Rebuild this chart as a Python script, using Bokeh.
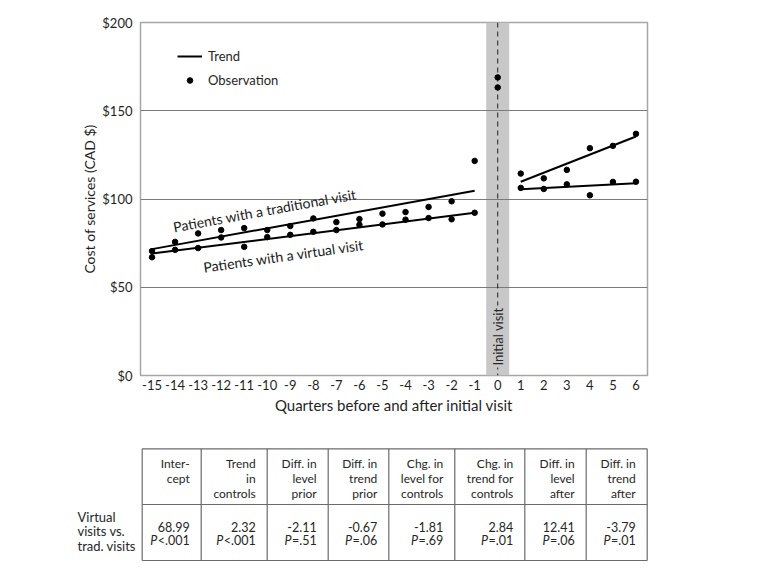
import math
from bokeh.plotting import figure
from bokeh.models import (Range1d, FixedTicker, BoxAnnotation, Span, Legend, LegendItem)
from bokeh.layouts import column
from bokeh.embed import file_html
from bokeh.resources import INLINE
from bokeh.core.properties import value

FONT = "Lato"

# ---------------- data ----------------
quarter_ticks = [-15, -14, -13, -12, -11, -10, -9, -8, -7, -6, -5, -4, -3, -2, -1, 0, 1, 2, 3, 4, 5, 6]
quarter_labels = ["-15", "-14", "-13", "-12", "-11", "-10", "-9", "-8", "-7", "-6", "-5", "-4",
                  "-3", "-2", "-1", "0", "1", "2", "3", "4", "5", "6"]
cost_ticks = [0, 50, 100, 150, 200]
cost_labels = ["$0", "$50", "$100", "$150", "$200"]

pre_quarters = [-15, -14, -13, -12, -11, -10, -9, -8, -7, -6, -5, -4, -3, -2, -1]
trad_pre_obs = [70.5, 75.7, 80.5, 82.4, 83.5, 82.4, 84.7, 89.0, 86.9, 88.6, 91.7, 92.6, 95.5, 98.7, 121.6]
virt_pre_obs = [67.0, 71.2, 72.2, 78.2, 72.9, 78.4, 79.7, 81.4, 82.4, 85.4, 85.6, 88.3, 89.2, 88.5, 92.2]

visit_quarters = [0, 0]
visit_obs = [168.9, 163.2]

post_quarters = [1, 2, 3, 4, 5, 6]
trad_post_obs = [114.4, 111.7, 116.5, 128.8, 130.1, 136.9]
virt_post_obs = [106.3, 105.7, 108.3, 102.1, 109.7, 109.8]

trend_pre_x = [-15, -1]
trad_pre_trend = [71.6, 104.7]
virt_pre_trend = [69.1, 92.2]
trend_post_x = [1, 6]
trad_post_trend = [109.8, 135.4]
virt_post_trend = [105.5, 108.9]

row_label = ["Virtual", "visits vs.", "trad. visits"]
col_headers = [["Inter-", "cept"], ["Trend", "in", "controls"], ["Diff. in", "level", "prior"],
               ["Diff. in", "trend", "prior"], ["Chg. in", "level for", "controls"],
               ["Chg. in", "trend for", "controls"], ["Diff. in", "level", "after"],
               ["Diff. in", "trend", "after"]]
coef_values = ["68.99", "2.32", "-2.11", "-0.67", "-1.81", "2.84", "12.41", "-3.79"]
p_values = ["<.001", "<.001", "=.51", "=.06", "=.69", "=.01", "=.06", "=.01"]

# ---------------- main chart ----------------
p = figure(width=708, height=438, x_range=Range1d(-15.5, 6.5), y_range=Range1d(0, 200),
           output_backend="svg", toolbar_location=None, frame_align=False,
           min_border_left=140, min_border_right=61, min_border_top=22, min_border_bottom=63)
p.background_fill_color = "white"
p.border_fill_color = "white"
p.outline_line_color = "#a6a6a6"
p.outline_line_width = 1.5

p.xgrid.visible = False
p.ygrid.ticker = FixedTicker(ticks=cost_ticks)
p.ygrid.grid_line_color = "#7a7a7a"
p.ygrid.grid_line_width = 1

for ax in (p.xaxis[0], p.yaxis[0]):
    ax.axis_line_color = None
    ax.major_tick_line_color = None
    ax.minor_tick_line_color = None
    ax.major_tick_out = 0
    ax.major_tick_in = 0
    ax.major_label_text_font = FONT
    ax.major_label_text_font_size = "13px"
    ax.major_label_text_color = "#1f1f1f"
    ax.axis_label_text_font = FONT
    ax.axis_label_text_font_style = "normal"
    ax.axis_label_text_color = "#1f1f1f"

p.xaxis.ticker = FixedTicker(ticks=quarter_ticks)
p.xaxis.major_label_overrides = dict(zip(quarter_ticks, quarter_labels))
p.xaxis.major_label_standoff = 4
p.xaxis.axis_label = "Quarters before and after initial visit"
p.xaxis.axis_label_text_font_size = "15px"
p.xaxis.axis_label_standoff = 3

p.yaxis.ticker = FixedTicker(ticks=cost_ticks)
p.yaxis.major_label_overrides = dict(zip(cost_ticks, cost_labels))
p.yaxis.major_label_standoff = 8
p.yaxis.axis_label = "Cost of services (CAD $)"
p.yaxis.axis_label_text_font_size = "14px"
p.yaxis.axis_label_standoff = 1

band = BoxAnnotation(left=-0.5, right=0.5, fill_color="#c8c8c8", fill_alpha=1.0,
                     line_color=None, level="image")
p.add_layout(band)
p.add_layout(Span(location=0, dimension="height", line_color="#222222", line_width=1,
                  line_dash="5 4", level="underlay"))

p.text(x=[0], y=[4.5], text=["Initial visit"], angle=math.pi / 2, text_align="left",
       text_baseline="middle", text_font=value(FONT), text_font_size="13px",
       text_color="#262626", background_fill_color="#c8c8c8", padding=2)

r_trend = p.line(trend_pre_x, trad_pre_trend, line_color="black", line_width=2)
p.line(trend_pre_x, virt_pre_trend, line_color="black", line_width=2)
p.line(trend_post_x, trad_post_trend, line_color="black", line_width=2)
p.line(trend_post_x, virt_post_trend, line_color="black", line_width=2)

r_obs = p.scatter(pre_quarters, trad_pre_obs, size=5.5, color="black")
p.scatter(pre_quarters, virt_pre_obs, size=5.5, color="black")
p.scatter(visit_quarters, visit_obs, size=5.5, color="black")
p.scatter(post_quarters, trad_post_obs, size=5.5, color="black")
p.scatter(post_quarters, virt_post_obs, size=5.5, color="black")

p.text(x=[-14.08], y=[84.1], text=["Patients with a traditional visit"], angle=math.radians(10.3),
       text_align="left", text_baseline="alphabetic", text_font=value(FONT),
       text_font_size="14px", text_color="#1a1a1a")
p.text(x=[-12.77], y=[61.3], text=["Patients with a virtual visit"], angle=math.radians(8.1),
       text_align="left", text_baseline="alphabetic", text_font=value(FONT),
       text_font_size="14px", text_color="#1a1a1a")

legend = Legend(items=[LegendItem(label="Trend", renderers=[r_trend]),
                       LegendItem(label="Observation", renderers=[r_obs])],
                location=(37, 287), border_line_color=None, background_fill_alpha=0,
                padding=0, margin=0, spacing=8, glyph_width=25, glyph_height=14,
                label_standoff=6, label_text_font=FONT, label_text_font_size="13px",
                label_text_color="#262626")
p.add_layout(legend)

# ---------------- table ----------------
t = figure(width=708, height=148, x_range=Range1d(0, 708), y_range=Range1d(586, 438),
           output_backend="svg", toolbar_location=None, min_border=0, frame_align=False,
           x_axis_location=None, y_axis_location=None, outline_line_color=None)
t.grid.visible = False
t.background_fill_color = "white"
t.border_fill_color = "white"

table_left = 141.7
col_widths = [59, 66, 61, 60.6, 66, 70, 61.4, 61]
table_top, header_bottom, table_bottom = 448.3, 504.0, 560.0
edges = [table_left]
for w in col_widths:
    edges.append(edges[-1] + w)
table_right = edges[-1]

t.segment(x0=[table_left] * 3, x1=[table_right] * 3, y0=[table_top, header_bottom, table_bottom],
          y1=[table_top, header_bottom, table_bottom], line_color="#6b6b6b", line_width=1.2)
t.segment(x0=edges, x1=edges, y0=[table_top] * len(edges), y1=[table_bottom] * len(edges),
          line_color="#6b6b6b", line_width=1.2)

pad = 11.5
hx, hy, ht = [], [], []
for i, lines in enumerate(col_headers):
    for j, s in enumerate(lines):
        hx.append(edges[i + 1] - pad)
        hy.append(table_top + 14.4 + 15.3 * j)
        ht.append(s)
t.text(x=hx, y=hy, text=ht, text_align="right", text_baseline="middle",
       text_font=value(FONT), text_font_size="12px", text_color="#262626")

vx = [edges[i + 1] - pad for i in range(len(coef_values))]
t.text(x=vx, y=[526] * len(vx), text=coef_values, text_align="right", text_baseline="middle",
       text_font=value(FONT), text_font_size="12.5px", text_color="#262626")
t.text(x=vx, y=[540] * len(vx), text=p_values, text_align="right", text_baseline="middle",
       text_font=value(FONT), text_font_size="12.5px", text_color="#262626")

cw = {"<": 0.58, "=": 0.58, ".": 0.24, "-": 0.36}
def est_width(s, size=12.5):
    return sum(cw.get(c, 0.58) for c in s) * size

px = [vx[i] - est_width(p_values[i]) - 0.5 for i in range(len(vx))]
t.text(x=px, y=[540] * len(px), text=["P"] * len(px), text_align="right", text_baseline="middle",
       text_font=value(FONT), text_font_size="12.5px", text_font_style="italic",
       text_color="#262626")

t.text(x=[77] * 3, y=[516, 530.7, 545.3], text=row_label, text_align="left", text_baseline="middle",
       text_font=value(FONT), text_font_size="13px", text_color="#262626")

layout = column(p, t, spacing=0)
open("out.html", "w").write(file_html(layout, INLINE))
